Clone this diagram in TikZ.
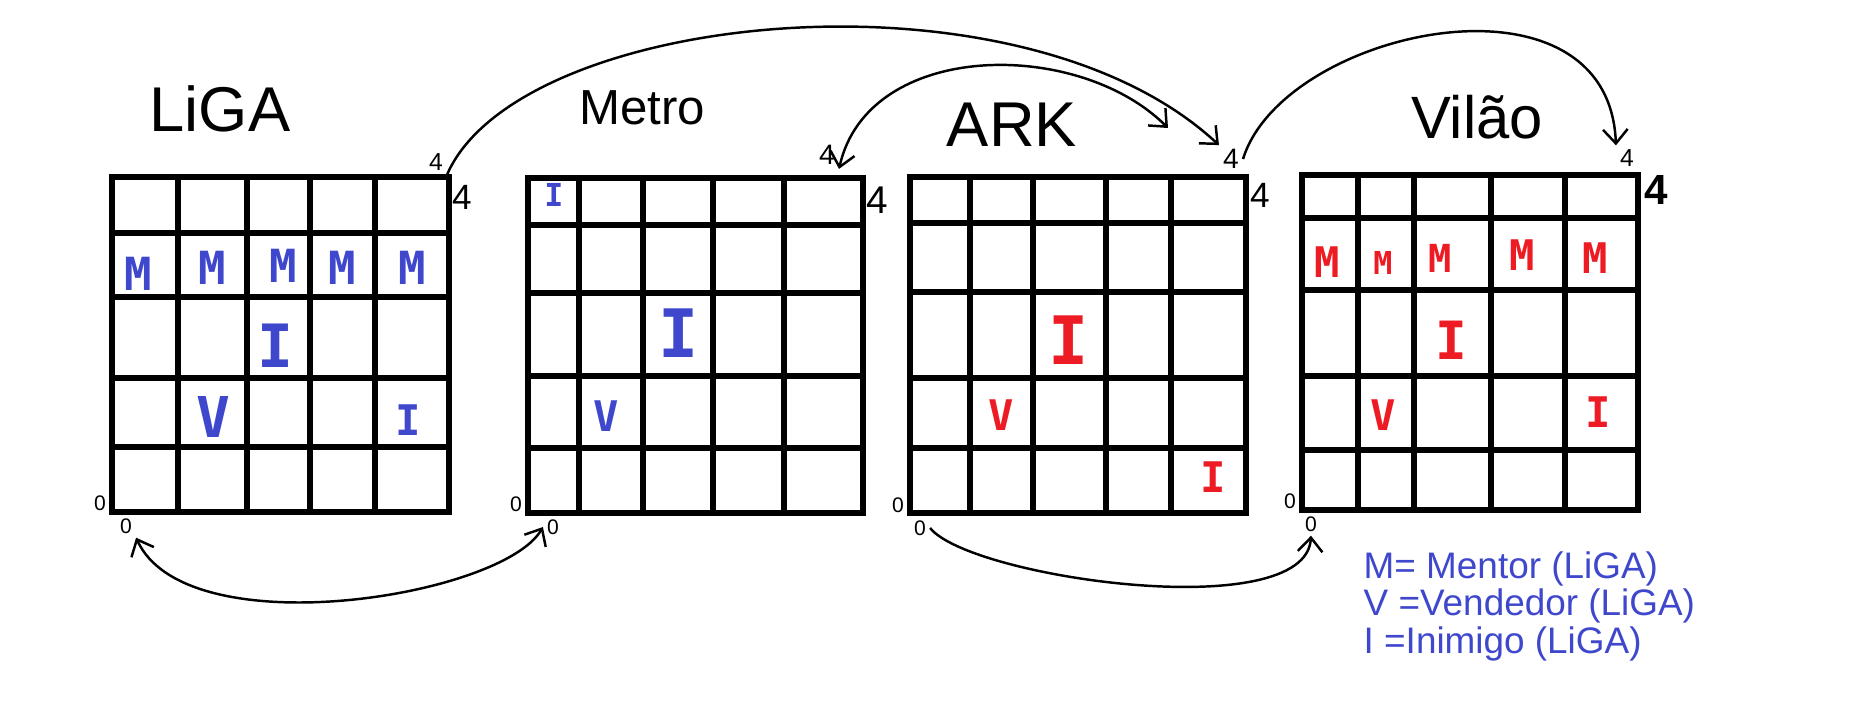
\documentclass[tikz,border=0pt]{standalone}
\usepackage{fontspec}
\setmainfont{Liberation Sans}
\newfontfamily\cellfont{DejaVu Sans Mono}
\usetikzlibrary{arrows.meta}
\definecolor{paintblue}{RGB}{63,72,204}
\definecolor{paintred}{RGB}{237,28,36}

\begin{document}
\begin{tikzpicture}[
    x=0.1mm, y=-0.1mm,
    gridline/.style={line width=1.6pt, line cap=rect},
    boardtitle/.style={anchor=base, inner sep=0pt, font=\fontsize{#1}{#1}\selectfont},
    corner/.style={inner sep=1pt, font=\fontsize{#1}{#1}\selectfont},
    blueletter/.style={inner sep=0pt, text=paintblue, font=\cellfont\bfseries\fontsize{#1}{#1}\selectfont},
    redletter/.style={inner sep=0pt, text=paintred, font=\cellfont\bfseries\fontsize{#1}{#1}\selectfont},
    keyline/.style={anchor=base west, inner sep=0pt, text=paintblue, font=\fontsize{10.5}{10.5}\selectfont},
    arr/.style={-{Straight Barb[length=4pt, width=7pt]}, line width=0.7pt},
    darr/.style={{Straight Barb[length=4pt, width=7pt]}-{Straight Barb[length=4pt, width=7pt]}, line width=0.7pt}
]
\useasboundingbox (0,0) rectangle (1865,700);

% Board titles
\node[boardtitle=18] (ligaTitle) at (220,131) {LiGA};
\node[boardtitle=14] (metroTitle) at (642,124) {Metro};
\node[boardtitle=18] (arkTitle) at (1012,146) {ARK};
\node[boardtitle=17] (vilaoTitle) at (1477,138) {Vilão};

% LiGA board
\foreach \x in {112,178,247,310,375,449} \draw[gridline] (\x,177) -- (\x,512);
\foreach \y in {177,233,297,378,447,512} \draw[gridline] (112,\y) -- (449,\y);
% Metro board
\foreach \x in {528,579,643,713,784,863} \draw[gridline] (\x,178) -- (\x,513);
\foreach \y in {178,225,293,376,448,513} \draw[gridline] (528,\y) -- (863,\y);
% ARK board
\foreach \x in {910,970,1033,1106,1171,1246} \draw[gridline] (\x,177) -- (\x,513);
\foreach \y in {177,223,292,378,448,513} \draw[gridline] (910,\y) -- (1246,\y);
% Vilao board
\foreach \x in {1302,1358,1414,1491,1565,1638} \draw[gridline] (\x,175) -- (\x,510);
\foreach \y in {175,218,290,376,450,510} \draw[gridline] (1302,\y) -- (1638,\y);

% Corner numbers
\node[corner=7] (ligaT) at (436,162) {4};
\node[corner=10] (ligaR) at (462,197) {4};
\node[corner=6] (ligaL) at (100,503) {0};
\node[corner=6] (ligaB) at (126,526) {0};
\node[corner=8] (metroT) at (827,155) {4};
\node[corner=11] (metroR) at (877,200) {4};
\node[corner=6] (metroL) at (516,504) {0};
\node[corner=6] (metroB) at (553,527) {0};
\node[corner=8] (arkT) at (1231,159) {4};
\node[corner=10] (arkR) at (1260,195) {4};
\node[corner=6] (arkL) at (898,505) {0};
\node[corner=6] (arkB) at (920,528) {0};
\node[corner=7] (vilaoT) at (1627,158) {4};
\node[corner=12, font=\fontsize{12}{12}\selectfont\bfseries] (vilaoR) at (1656,190) {4};
\node[corner=6] (vilaoL) at (1290,501) {0};
\node[corner=6] (vilaoB) at (1311,524) {0};

% LiGA pieces
\foreach \x/\y [count=\i] in {138/274,212/268,283/266,342/268,412/268}
  \node[blueletter=13] (ligaM\i) at (\x,\y) {M};
\node[blueletter=17] (ligaI1) at (275,346) {I};
\node[blueletter=16] (ligaV) at (213,417) {V};
\node[blueletter=12] (ligaI2) at (408,420) {I};

% Metro pieces
\node[blueletter=9] (metroI1) at (554,195) {I};
\node[blueletter=19] (metroI2) at (679,333) {I};
\node[blueletter=12] (metroV) at (606,416) {V};

% ARK pieces
\node[redletter=19] (arkI1) at (1069,340) {I};
\node[redletter=12] (arkV) at (1001,415) {V};
\node[redletter=12] (arkI2) at (1213,477) {I};

% Vilao pieces
\foreach \x/\y/\s [count=\i] in {1327/262/12,1383/263/9,1440/258/11,1522/255/12,1595/258/12}
  \node[redletter=\s] (vilaoM\i) at (\x,\y) {M};
\node[redletter=15] (vilaoI1) at (1451,340) {I};
\node[redletter=12] (vilaoV) at (1383,415) {V};
\node[redletter=12] (vilaoI2) at (1598,412) {I};

% Links between the boards
\coordinate (arkLink) at (1168,128);
\draw[arr] (ligaT.south east) .. controls +(71,-164) and +(-200,-186) .. (arkT.north west);
\draw[darr] (metroT.south east) .. controls +(29,-129) and +(-90,-90) .. (arkLink);
\draw[arr] (arkT.east) .. controls +(40,-130) and +(-7,-186) .. (vilaoT.north west);
\draw[darr] (ligaB.south east) .. controls +(50,110) and +(-40,70) .. (metroB.west);
\draw[arr] (arkB.east) .. controls +(40,50) and +(-5,90) .. (vilaoB.south);

% Key
\node[keyline] (keyM) at (1363,578) {M= Mentor (LiGA)};
\node[keyline] (keyV) at (1363,615) {V =Vendedor (LiGA)};
\node[keyline] (keyI) at (1363,653) {I =Inimigo (LiGA)};

\end{tikzpicture}
\end{document}
